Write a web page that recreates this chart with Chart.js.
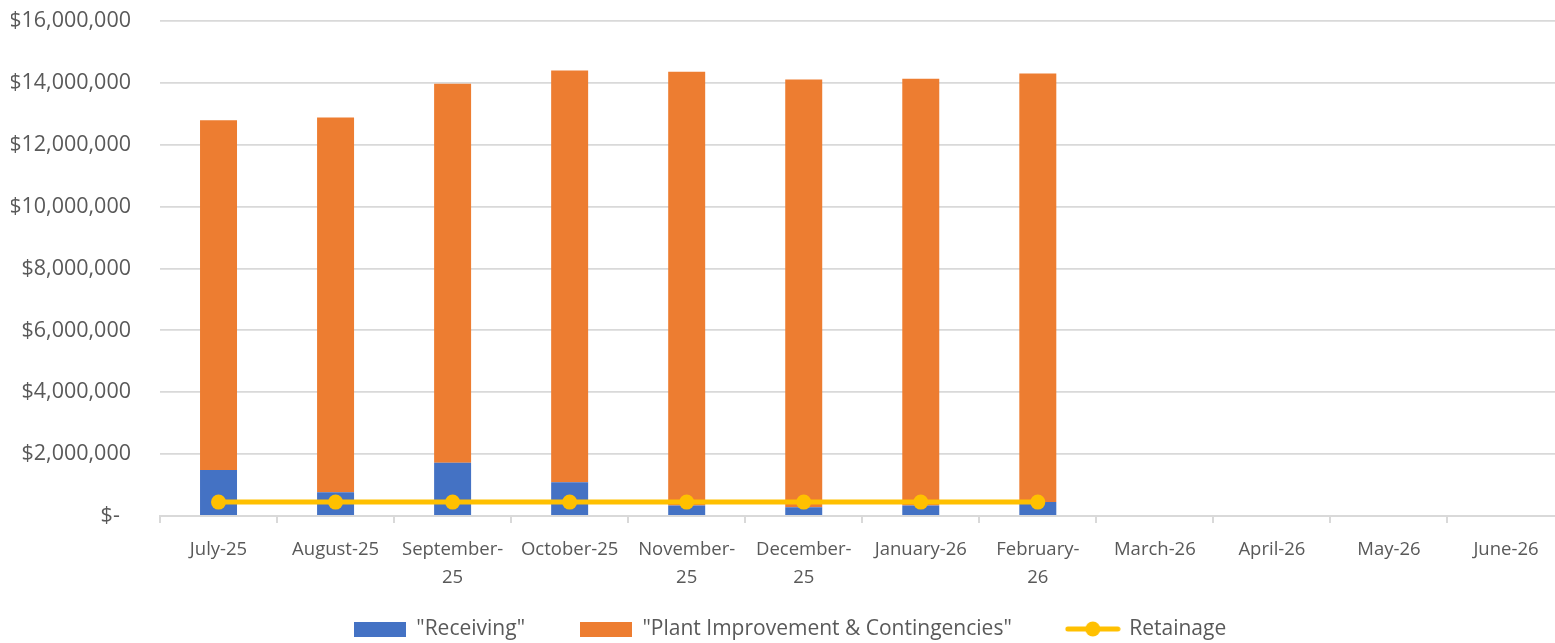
<!DOCTYPE html>
<html>
<head>
<meta charset="utf-8">
<script src="https://cdn.jsdelivr.net/npm/chart.js@4/dist/chart.umd.min.js"></script>
<style>
  html, body { margin: 0; padding: 0; background: #ffffff; overflow: hidden; }
  #wrap { position: absolute; left: 0; top: 0; width: 1572px; height: 643px; }
</style>
</head>
<body>
<div id="wrap"><canvas id="chart"></canvas></div>
<script>
// Monthly cost breakdown, FY July-25 to June-26
const months = ['July-25', 'August-25', ['September-', '25'], 'October-25', ['November-', '25'],
  ['December-', '25'], 'January-26', ['February-', '26'], 'March-26', 'April-26', 'May-26', 'June-26'];

const receiving = [1490000, 770000, 1720000, 1090000, 340000, 280000, 340000, 450000, null, null, null, null];
const plantImprovement = [11300000, 12110000, 12250000, 13310000, 14020000, 13830000, 13790000, 13850000, null, null, null, null];
const retainage = [450000, 450000, 450000, 450000, 450000, 450000, 450000, 450000, null, null, null, null];

const yTicks = [0, 2000000, 4000000, 6000000, 8000000, 10000000, 12000000, 14000000, 16000000];

const BLUE = '#4472C4';
const ORANGE = '#ED7D31';
const GOLD = '#FFC000';
const TEXT = '#595959';
const GRID = '#d9d9d9';

// legend swatches
function swatchRect(color) {
  const c = document.createElement('canvas');
  c.width = 52; c.height = 15;
  const g = c.getContext('2d');
  g.fillStyle = color;
  g.fillRect(0, 0, 52, 15);
  return c;
}
function swatchLine(color) {
  const c = document.createElement('canvas');
  c.width = 56; c.height = 16;
  const g = c.getContext('2d');
  g.strokeStyle = color;
  g.lineWidth = 5;
  g.lineCap = 'round';
  g.beginPath();
  g.moveTo(3, 8); g.lineTo(53, 8);
  g.stroke();
  g.fillStyle = color;
  g.beginPath();
  g.arc(28, 8, 7.5, 0, Math.PI * 2);
  g.fill();
  return c;
}
const legendSwatches = [swatchRect(BLUE), swatchRect(ORANGE), swatchLine(GOLD)];
// extra room after the first two legend entries
const legendGap = ['\u2002\u2002\u2002\u2002', '\u2002\u2002\u2002\u2002', ''];

const ctx = document.getElementById('chart');
new Chart(ctx, {
  data: {
    labels: months,
    datasets: [
      {
        type: 'bar',
        label: '"Receiving"',
        data: receiving,
        backgroundColor: BLUE,
        stack: 'costs',
        order: 2,
        categoryPercentage: 1,
        barPercentage: 0.316
      },
      {
        type: 'bar',
        label: '"Plant Improvement & Contingencies"',
        data: plantImprovement,
        backgroundColor: ORANGE,
        stack: 'costs',
        order: 2,
        categoryPercentage: 1,
        barPercentage: 0.316
      },
      {
        type: 'line',
        label: 'Retainage',
        data: retainage,
        borderColor: GOLD,
        backgroundColor: GOLD,
        borderWidth: 5,
        pointRadius: 7.5,
        pointHoverRadius: 7.5,
        pointBorderWidth: 0,
        pointBackgroundColor: GOLD,
        stack: 'retainage',
        order: 0,
        spanGaps: false
      }
    ]
  },
  options: {
    responsive: true,
    maintainAspectRatio: false,
    animation: false,
    layout: { padding: { left: 11, right: 3, top: 21, bottom: -6.5 } },
    plugins: {
      tooltip: { enabled: false },
      legend: {
        position: 'bottom',
        labels: {
          usePointStyle: true,
          pointStyleWidth: 52,
          boxHeight: 15,
          padding: 13,
          color: TEXT,
          font: { family: 'Open Sans', size: 21 },
          generateLabels(chart) {
            return chart.data.datasets.map((ds, i) => ({
              text: ds.label + legendGap[i],
              pointStyle: legendSwatches[i],
              fillStyle: ds.backgroundColor,
              strokeStyle: ds.backgroundColor,
              lineWidth: 0,
              fontColor: TEXT,
              hidden: !chart.isDatasetVisible(i),
              datasetIndex: i
            }));
          }
        }
      }
    },
    scales: {
      x: {
        stacked: true,
        offset: true,
        grid: {
          offset: true,
          drawOnChartArea: false,
          drawTicks: true,
          tickLength: 7,
          color: GRID,
          lineWidth: 2
        },
        border: { display: true, color: GRID, width: 2 },
        ticks: {
          color: TEXT,
          font: { family: 'Open Sans', size: 18.5, lineHeight: 1.55 },
          padding: 12,
          maxRotation: 0,
          autoSkip: false
        },
        afterFit(scale) { scale.height = 89.5; }
      },
      y: {
        stacked: true,
        min: 0,
        max: 16000000,
        afterBuildTicks(scale) { scale.ticks = yTicks.map(v => ({ value: v })); },
        grid: { color: GRID, lineWidth: 1.8, drawTicks: false },
        border: { display: false },
        ticks: {
          color: TEXT,
          font: { family: 'Open Sans', size: 21.5 },
          padding: 29,
          callback(v) { return v === 0 ? '$-  ' : '$' + Number(v).toLocaleString('en-US'); }
        },
        afterFit(scale) {
          scale.width = 149;
          scale.paddingTop = 0;
          scale.paddingBottom = 0;
        }
      }
    }
  }
});
</script>
</body>
</html>
